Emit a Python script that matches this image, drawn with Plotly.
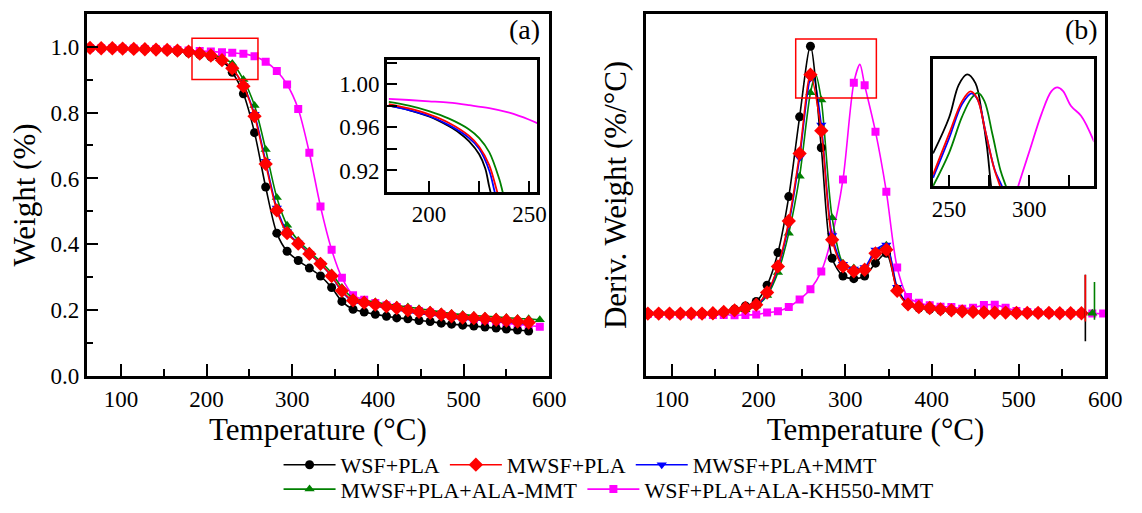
import plotly.graph_objects as go

# ---------------- data: panel (a) TGA ----------------
T_a = [64, 77, 90, 102, 115, 128, 141, 154, 166, 179, 192, 205, 218, 230, 243, 256, 269, 282,
       294, 307, 320, 333, 346, 358, 371, 384, 397, 410, 422, 435, 448, 461, 474, 486, 499, 512,
       525, 538, 550, 563, 576, 589]

wa_black = [0.996, 0.995, 0.995, 0.994, 0.993, 0.992, 0.991, 0.989, 0.986, 0.981, 0.976, 0.969,
            0.957, 0.922, 0.857, 0.739, 0.574, 0.434, 0.379, 0.351, 0.328, 0.304, 0.269, 0.227,
            0.203, 0.195, 0.188, 0.182, 0.177, 0.174, 0.169, 0.166, 0.161, 0.158, 0.155, 0.152,
            0.149, 0.146, 0.143, 0.140, 0.137]
wa_red = [0.996, 0.995, 0.995, 0.994, 0.993, 0.992, 0.991, 0.990, 0.988, 0.985, 0.979, 0.973,
          0.959, 0.934, 0.880, 0.789, 0.644, 0.503, 0.434, 0.402, 0.371, 0.341, 0.304, 0.259,
          0.230, 0.223, 0.217, 0.212, 0.207, 0.200, 0.195, 0.192, 0.187, 0.182, 0.178, 0.176,
          0.174, 0.171, 0.169, 0.166, 0.163]
wa_blue = [0.996, 0.995, 0.995, 0.994, 0.993, 0.992, 0.991, 0.990, 0.988, 0.985, 0.979, 0.972,
           0.958, 0.932, 0.882, 0.795, 0.652, 0.510, 0.438, 0.404, 0.372, 0.341, 0.303, 0.257,
           0.226, 0.219, 0.213, 0.207, 0.202, 0.195, 0.190, 0.187, 0.182, 0.177, 0.173, 0.171,
           0.169, 0.166, 0.164, 0.161, 0.158]
wa_green = [0.996, 0.995, 0.995, 0.994, 0.993, 0.992, 0.991, 0.990, 0.989, 0.986, 0.982, 0.977,
            0.965, 0.949, 0.900, 0.821, 0.688, 0.542, 0.458, 0.412, 0.379, 0.348, 0.313, 0.269,
            0.237, 0.230, 0.225, 0.219, 0.215, 0.210, 0.205, 0.200, 0.195, 0.190, 0.187, 0.184,
            0.182, 0.180, 0.178, 0.175, 0.174, 0.171]
wa_magenta = [0.996, 0.995, 0.995, 0.994, 0.994, 0.993, 0.992, 0.991, 0.990, 0.988, 0.987, 0.985,
              0.983, 0.981, 0.978, 0.971, 0.954, 0.926, 0.885, 0.811, 0.678, 0.515, 0.384, 0.299,
              0.246, 0.232, 0.222, 0.215, 0.210, 0.204, 0.198, 0.193, 0.188, 0.183, 0.178, 0.173,
              0.169, 0.165, 0.161, 0.157, 0.154, 0.150]

# inset (a)
Ti_black = [180, 190, 200, 205, 210, 215, 220, 225, 228, 230, 232]
wi_black = [0.980, 0.976, 0.970, 0.966, 0.961, 0.955, 0.947, 0.935, 0.922, 0.905, 0.890]
Ti_blue = [180, 190, 200, 210, 220, 225, 230, 233, 235]
wi_blue = [0.980, 0.976, 0.9705, 0.962, 0.950, 0.940, 0.920, 0.898, 0.885]
Ti_red = [180, 190, 200, 210, 220, 225, 230, 234, 236]
wi_red = [0.9815, 0.9775, 0.972, 0.964, 0.952, 0.942, 0.925, 0.900, 0.888]
Ti_green = [180, 190, 200, 210, 220, 225, 230, 235, 237, 239]
wi_green = [0.9835, 0.980, 0.975, 0.968, 0.958, 0.950, 0.937, 0.912, 0.898, 0.885]
Ti_magenta = [180, 190, 200, 210, 220, 230, 240, 250, 255]
wi_magenta = [0.9864, 0.9853, 0.9841, 0.9828, 0.9805, 0.9778, 0.9735, 0.9670, 0.9630]

# ---------------- data: panel (b) DTG ----------------
T_b = [72.5, 85, 97.5, 110, 122.5, 135, 147.5, 160, 172.5, 185, 197.5, 210, 222.5, 235, 247.5,
       260, 272.5, 285, 297.5, 310, 322.5, 335, 347.5, 360, 372.5, 385, 397.5, 410, 422.5, 435,
       447.5, 460, 472.5, 485, 497.5, 510, 522.5, 535, 547.5, 560, 572.5, 585, 597.5]

db_black = [0.190, 0.190, 0.190, 0.190, 0.190, 0.191, 0.192, 0.196, 0.203, 0.213, 0.227, 0.276,
            0.375, 0.545, 0.787, 1.001, 0.693, 0.358, 0.304, 0.296, 0.304, 0.343, 0.373, 0.264,
            0.217, 0.207, 0.203, 0.200, 0.198, 0.196, 0.195, 0.194, 0.193, 0.193, 0.192, 0.192,
            0.192, 0.191, 0.191, 0.191, 0.191]
db_red = [0.190, 0.190, 0.190, 0.190, 0.190, 0.190, 0.191, 0.195, 0.200, 0.207, 0.217, 0.254,
          0.333, 0.471, 0.676, 0.915, 0.745, 0.414, 0.333, 0.318, 0.323, 0.373, 0.384, 0.259,
          0.218, 0.210, 0.207, 0.203, 0.200, 0.197, 0.195, 0.194, 0.193, 0.193, 0.192, 0.192,
          0.192, 0.192, 0.191, 0.191, 0.191]
db_blue = [0.190, 0.190, 0.190, 0.190, 0.190, 0.190, 0.191, 0.195, 0.200, 0.206, 0.215, 0.250,
           0.328, 0.461, 0.663, 0.905, 0.762, 0.427, 0.340, 0.325, 0.330, 0.383, 0.398, 0.270,
           0.220, 0.211, 0.207, 0.203, 0.200, 0.197, 0.195, 0.194, 0.193, 0.193, 0.192, 0.192,
           0.192, 0.192, 0.191, 0.191, 0.191]
db_green = [0.190, 0.190, 0.190, 0.190, 0.190, 0.190, 0.190, 0.193, 0.197, 0.202, 0.213, 0.245,
            0.315, 0.434, 0.607, 0.860, 0.838, 0.481, 0.343, 0.328, 0.328, 0.373, 0.397, 0.264,
            0.218, 0.210, 0.207, 0.203, 0.200, 0.197, 0.195, 0.194, 0.193, 0.193, 0.192, 0.192,
            0.192, 0.192, 0.191, 0.191, 0.191, 0.191]
db_magenta = [0.189, 0.189, 0.188, 0.188, 0.187, 0.187, 0.186, 0.186, 0.185, 0.186, 0.187, 0.193,
              0.197, 0.210, 0.233, 0.264, 0.318, 0.427, 0.597, 0.890, 0.883, 0.742, 0.560, 0.330,
              0.240, 0.223, 0.215, 0.211, 0.210, 0.205, 0.208, 0.216, 0.217, 0.208, 0.198, 0.195,
              0.193, 0.192, 0.191, 0.191, 0.190, 0.190, 0.190]

# peak maxima of the curves in (b) that fall between plotted symbols
peak_T_b = {"green": 266, "magenta": 317, "blue": 263}
peak_v_b = {"green": 0.915, "magenta": 0.946, "blue": 0.912}

# end-of-run vertical artefacts in panel (b)
spike_T = {"black": 577, "red": 577, "green": 587.5}
spike_vals = {"black": [0.308, 0.106], "red": [0.308, 0.166], "green": [0.286, 0.171]}

# inset (b)
Tj_black = [240, 250, 256, 261.2, 266.4, 270.5, 273.6, 276.2, 278]
dj_black = [0.604, 0.784, 0.948, 1.000, 0.956, 0.800, 0.637, 0.438, 0.35]
Tj_red = [240, 250, 258.1, 263.3, 267.4, 272.5, 277.7, 281.8, 284]
dj_red = [0.498, 0.703, 0.866, 0.915, 0.882, 0.719, 0.539, 0.438, 0.38]
Tj_blue = [240, 250, 258, 264, 268, 273, 278.5, 283, 285]
dj_blue = [0.482, 0.680, 0.850, 0.905, 0.870, 0.700, 0.520, 0.438, 0.39]
Tj_green = [240, 250, 258, 264, 268, 272, 277, 282, 285.5, 288]
dj_green = [0.440, 0.607, 0.787, 0.882, 0.907, 0.866, 0.700, 0.520, 0.438, 0.38]
Tj_magenta = [291, 293, 300.3, 307.5, 313.7, 317.4, 320.9, 326, 332.2, 336.3, 340.4]
dj_magenta = [0.38, 0.438, 0.621, 0.800, 0.915, 0.935, 0.918, 0.842, 0.793, 0.735, 0.662]

# ---------------- series styling ----------------
names = ["WSF+PLA", "MWSF+PLA", "MWSF+PLA+MMT", "MWSF+PLA+ALA-MMT", "WSF+PLA+ALA-KH550-MMT"]
colors = {"black": "#000000", "red": "#FF0000", "blue": "#0000FF", "green": "#008000", "magenta": "#FF00FF"}
symbols = {"black": "circle", "red": "diamond", "blue": "triangle-down", "green": "triangle-up", "magenta": "square"}
msize = {"black": 9, "red": 11, "blue": 9, "green": 9, "magenta": 8}
keys = ["black", "red", "blue", "green", "magenta"]
main_a = {"black": wa_black, "red": wa_red, "blue": wa_blue, "green": wa_green, "magenta": wa_magenta}
main_b = {"black": db_black, "red": db_red, "blue": db_blue, "green": db_green, "magenta": db_magenta}
ins_a = {"black": (Ti_black, wi_black), "red": (Ti_red, wi_red), "blue": (Ti_blue, wi_blue),
         "green": (Ti_green, wi_green), "magenta": (Ti_magenta, wi_magenta)}
ins_b = {"black": (Tj_black, dj_black), "red": (Tj_red, dj_red), "blue": (Tj_blue, dj_blue),
         "green": (Tj_green, dj_green), "magenta": (Tj_magenta, dj_magenta)}
legend_of = {"black": "legend", "red": "legend", "blue": "legend", "green": "legend2", "magenta": "legend2"}

FONT = "Liberation Serif, Times New Roman, serif"
draw_order = ["magenta", "green", "blue", "black", "red"]

fig = go.Figure()
for k in draw_order:
    i = keys.index(k)
    y = main_a[k]
    fig.add_trace(go.Scatter(
        x=T_a[:len(y)], y=y, mode="lines+markers", name=names[i], legend=legend_of[k],
        legendrank=i + 1, line=dict(color=colors[k], width=1.6, shape="spline", smoothing=0.8),
        marker=dict(symbol=symbols[k], size=msize[k], color=colors[k], opacity=1,
                    line=dict(width=0)),
        xaxis="x", yaxis="y", showlegend=True))
for k in draw_order:
    y = list(main_b[k])
    x = list(T_b[:len(y)])
    sizes = [msize[k]] * len(y)
    if k in peak_T_b:
        pos = next(j for j, t in enumerate(x) if t > peak_T_b[k])
        x.insert(pos, peak_T_b[k])
        y.insert(pos, peak_v_b[k])
        sizes.insert(pos, 0)
    fig.add_trace(go.Scatter(
        x=x, y=y, mode="lines+markers", showlegend=False,
        line=dict(color=colors[k], width=1.6, shape="spline", smoothing=0.8),
        marker=dict(symbol=symbols[k], size=sizes, sizemode="diameter", color=colors[k], opacity=1,
                    line=dict(width=0, color=colors[k])),
        xaxis="x2", yaxis="y2"))
for k in ["black", "red", "green"]:
    fig.add_trace(go.Scatter(
        x=[spike_T[k], spike_T[k]], y=spike_vals[k], mode="lines", showlegend=False,
        line=dict(color=colors[k], width=1.6), xaxis="x2", yaxis="y2"))
for k in ["black", "blue", "red", "green", "magenta"]:
    tx, ty = ins_a[k]
    fig.add_trace(go.Scatter(x=tx, y=ty, mode="lines", showlegend=False,
                             line=dict(color=colors[k], width=1.8, shape="spline"),
                             xaxis="x3", yaxis="y3"))
for k in ["black", "green", "blue", "red", "magenta"]:
    tx, ty = ins_b[k]
    fig.add_trace(go.Scatter(x=tx, y=ty, mode="lines", showlegend=False,
                             line=dict(color=colors[k], width=1.8, shape="spline"),
                             xaxis="x4", yaxis="y4"))

W, H = 1142, 513
def px_x(a, b):
    return [a / W, b / W]
def px_y(top, bottom):
    return [(H - bottom) / H, (H - top) / H]

axis_common = dict(showline=True, linewidth=2.5, linecolor="black", mirror=True, showgrid=False,
                   zeroline=False, ticks="inside", tickwidth=2, tickcolor="black",
                   tickfont=dict(family=FONT, size=23, color="black"))

fig.update_layout(
    width=W, height=H, margin=dict(l=0, r=0, t=0, b=0),
    paper_bgcolor="white", plot_bgcolor="white",
    font=dict(family=FONT, color="black"),
    xaxis=dict(**axis_common, domain=px_x(87, 557), range=[60, 600], dtick=100, tick0=0, ticklen=12,
               minor=dict(ticks="inside", dtick=50, tick0=0, ticklen=7, tickwidth=2, tickcolor="black"),
               title=dict(text="Temperature (°C)", font=dict(family=FONT, size=31), standoff=3),
               anchor="y"),
    yaxis=dict(**axis_common, domain=px_y(14, 386), range=[0, 1.1], dtick=0.2, tick0=0, ticklen=12,
               tickformat=".1f",
               minor=dict(ticks="inside", dtick=0.1, tick0=0, ticklen=7, tickwidth=2, tickcolor="black"),
               title=dict(text="Weight (%)", font=dict(family=FONT, size=31), standoff=6),
               anchor="x"),
    xaxis2=dict(**axis_common, domain=px_x(655, 1122), range=[70, 600], dtick=100, tick0=0, ticklen=12,
                minor=dict(ticks="inside", dtick=50, tick0=0, ticklen=7, tickwidth=2, tickcolor="black"),
                title=dict(text="Temperature (°C)", font=dict(family=FONT, size=31), standoff=3),
                anchor="y2"),
    yaxis2=dict(showline=True, linewidth=2.5, linecolor="black", mirror=True, showgrid=False,
                zeroline=False, showticklabels=False, ticks="",
                domain=px_y(14, 386), range=[0, 1.1],
                title=dict(text="Deriv. Weight (%/°C)", font=dict(family=FONT, size=31), standoff=8),
                anchor="x2"),
    xaxis3=dict(**axis_common, domain=px_x(392, 545), range=[179, 254], dtick=50, tick0=0, ticklen=11,
                minor=dict(ticks="inside", dtick=25, tick0=0, ticklen=11, tickwidth=2, tickcolor="black"),
                anchor="y3"),
    yaxis3=dict(**axis_common, domain=px_y(62, 197), range=[0.90, 1.022], dtick=0.04, tick0=0,
                ticklen=10, tickformat=".2f",
                minor=dict(ticks="inside", dtick=0.02, tick0=0, ticklen=10, tickwidth=2, tickcolor="black"),
                anchor="x3"),
    xaxis4=dict(**axis_common, domain=px_x(947, 1110), range=[240, 340], dtick=50, tick0=0, ticklen=11,
                minor=dict(ticks="inside", dtick=25, tick0=0, ticklen=11, tickwidth=2, tickcolor="black"),
                anchor="y4"),
    yaxis4=dict(showline=True, linewidth=2.5, linecolor="black", mirror=True, showgrid=False,
                zeroline=False, showticklabels=False, ticks="",
                domain=px_y(61, 191), range=[0.44, 1.075], anchor="x4"),
    legend=dict(orientation="h", x=282 / W, xanchor="left", y=(H - 477) / H, yanchor="middle",
                font=dict(family=FONT, size=22, color="black"), itemwidth=52,
                bgcolor="rgba(0,0,0,0)", tracegroupgap=0),
    legend2=dict(orientation="h", x=282 / W, xanchor="left", y=(H - 502) / H, yanchor="middle",
                 font=dict(family=FONT, size=22, color="black"), itemwidth=52,
                 bgcolor="rgba(0,0,0,0)", tracegroupgap=0),
    shapes=[
        dict(type="rect", xref="x", yref="y", x0=183, x1=260, y0=0.900, y1=1.025,
             line=dict(color="#FF0000", width=1.5)),
        dict(type="rect", xref="x2", yref="y2", x0=243, x1=336, y0=0.844, y1=1.023,
             line=dict(color="#FF0000", width=1.5)),
    ],
    annotations=[
        dict(text="(a)", xref="paper", yref="paper", x=550 / W, y=(H - 30) / H, xanchor="right",
             yanchor="middle", showarrow=False, font=dict(family=FONT, size=28, color="black")),
        dict(text="(b)", xref="paper", yref="paper", x=1117 / W, y=(H - 30) / H, xanchor="right",
             yanchor="middle", showarrow=False, font=dict(family=FONT, size=28, color="black")),
    ],
)

fig.write_html("out.html")
